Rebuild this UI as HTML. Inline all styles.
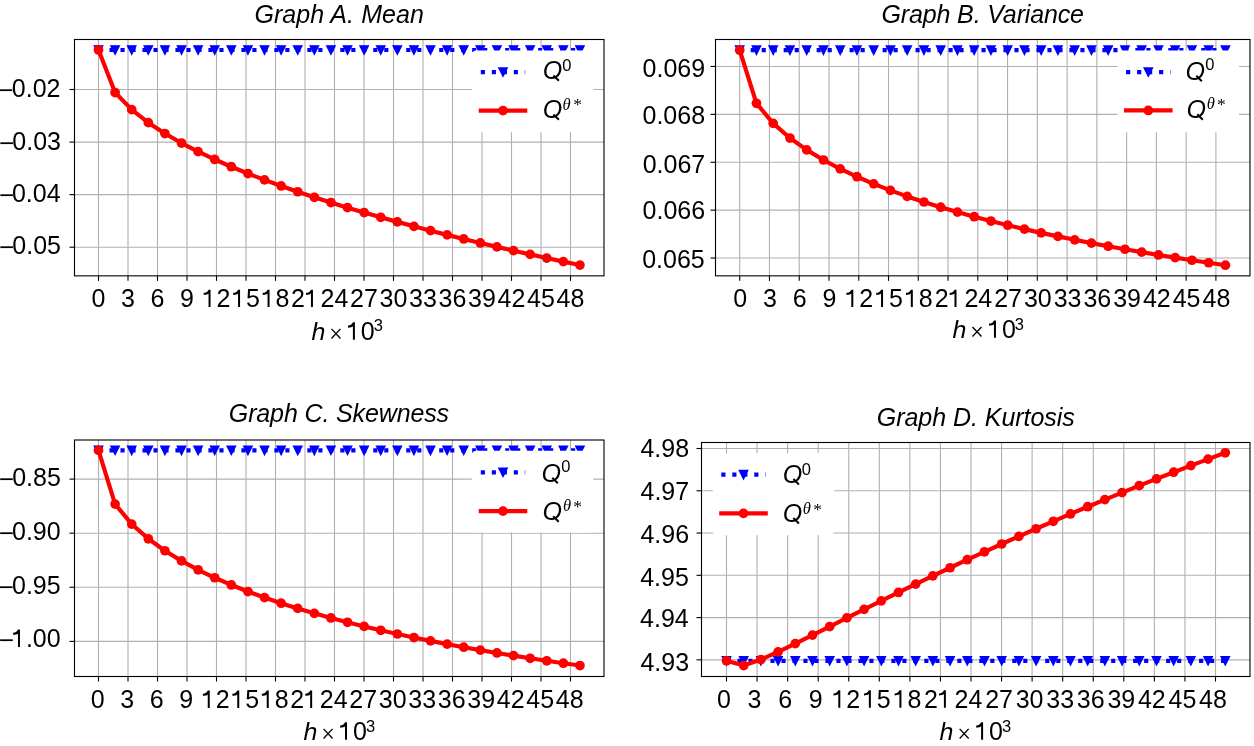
<!DOCTYPE html>
<html><head><meta charset="utf-8"><title>Graphs</title>
<style>html,body{margin:0;padding:0;background:#fff;overflow:hidden}svg text{font-kerning:normal}</style>
</head><body>
<svg width="1254" height="746" viewBox="0 0 1254 746" style="display:block;will-change:transform">
<rect width="1254" height="746" fill="#fff"/>
<defs>
<clipPath id="cA"><rect x="74.5" y="39.5" width="529.5" height="236.35"/></clipPath>
<clipPath id="cB"><rect x="715.5" y="39.5" width="534.5" height="236.35"/></clipPath>
<clipPath id="cC"><rect x="74.5" y="440" width="529.5" height="236.5"/></clipPath>
<clipPath id="cD"><rect x="701.5" y="442.5" width="548.5" height="234"/></clipPath>
</defs>
<g stroke="#b0b0b0" stroke-width="1.11" fill="none">
<line x1="98.5" y1="39.5" x2="98.5" y2="275.85"/>
<line x1="128" y1="39.5" x2="128" y2="275.85"/>
<line x1="157.5" y1="39.5" x2="157.5" y2="275.85"/>
<line x1="187" y1="39.5" x2="187" y2="275.85"/>
<line x1="216.5" y1="39.5" x2="216.5" y2="275.85"/>
<line x1="246" y1="39.5" x2="246" y2="275.85"/>
<line x1="275.5" y1="39.5" x2="275.5" y2="275.85"/>
<line x1="305" y1="39.5" x2="305" y2="275.85"/>
<line x1="334.5" y1="39.5" x2="334.5" y2="275.85"/>
<line x1="364" y1="39.5" x2="364" y2="275.85"/>
<line x1="393.5" y1="39.5" x2="393.5" y2="275.85"/>
<line x1="423" y1="39.5" x2="423" y2="275.85"/>
<line x1="452.5" y1="39.5" x2="452.5" y2="275.85"/>
<line x1="482" y1="39.5" x2="482" y2="275.85"/>
<line x1="511.5" y1="39.5" x2="511.5" y2="275.85"/>
<line x1="541" y1="39.5" x2="541" y2="275.85"/>
<line x1="570.5" y1="39.5" x2="570.5" y2="275.85"/>
<line x1="74.5" y1="89.5" x2="604" y2="89.5"/>
<line x1="74.5" y1="142.07" x2="604" y2="142.07"/>
<line x1="74.5" y1="194.63" x2="604" y2="194.63"/>
<line x1="74.5" y1="247.2" x2="604" y2="247.2"/>
</g>
<g clip-path="url(#cA)">
<line x1="98.5" y1="50" x2="579.94" y2="50" stroke="#0000ff" stroke-width="4.17" stroke-dasharray="4.15 6.84" stroke-linecap="butt"/>
<path d="M94.33,45.83L102.67,45.83L98.5,54.17Z" fill="#0000ff" stroke="#0000ff" stroke-width="1.39" stroke-linejoin="miter"/>
<path d="M110.93,45.83L119.27,45.83L115.1,54.17Z" fill="#0000ff" stroke="#0000ff" stroke-width="1.39" stroke-linejoin="miter"/>
<path d="M127.54,45.83L135.87,45.83L131.7,54.17Z" fill="#0000ff" stroke="#0000ff" stroke-width="1.39" stroke-linejoin="miter"/>
<path d="M144.14,45.83L152.47,45.83L148.3,54.17Z" fill="#0000ff" stroke="#0000ff" stroke-width="1.39" stroke-linejoin="miter"/>
<path d="M160.74,45.83L169.07,45.83L164.91,54.17Z" fill="#0000ff" stroke="#0000ff" stroke-width="1.39" stroke-linejoin="miter"/>
<path d="M177.34,45.83L185.67,45.83L181.51,54.17Z" fill="#0000ff" stroke="#0000ff" stroke-width="1.39" stroke-linejoin="miter"/>
<path d="M193.94,45.83L202.27,45.83L198.11,54.17Z" fill="#0000ff" stroke="#0000ff" stroke-width="1.39" stroke-linejoin="miter"/>
<path d="M210.54,45.83L218.88,45.83L214.71,54.17Z" fill="#0000ff" stroke="#0000ff" stroke-width="1.39" stroke-linejoin="miter"/>
<path d="M227.14,45.83L235.48,45.83L231.31,54.17Z" fill="#0000ff" stroke="#0000ff" stroke-width="1.39" stroke-linejoin="miter"/>
<path d="M243.75,45.83L252.08,45.83L247.91,54.17Z" fill="#0000ff" stroke="#0000ff" stroke-width="1.39" stroke-linejoin="miter"/>
<path d="M260.35,45.83L268.68,45.83L264.51,54.17Z" fill="#0000ff" stroke="#0000ff" stroke-width="1.39" stroke-linejoin="miter"/>
<path d="M276.95,45.83L285.28,45.83L281.12,54.17Z" fill="#0000ff" stroke="#0000ff" stroke-width="1.39" stroke-linejoin="miter"/>
<path d="M293.55,45.83L301.88,45.83L297.72,54.17Z" fill="#0000ff" stroke="#0000ff" stroke-width="1.39" stroke-linejoin="miter"/>
<path d="M310.15,45.83L318.48,45.83L314.32,54.17Z" fill="#0000ff" stroke="#0000ff" stroke-width="1.39" stroke-linejoin="miter"/>
<path d="M326.75,45.83L335.09,45.83L330.92,54.17Z" fill="#0000ff" stroke="#0000ff" stroke-width="1.39" stroke-linejoin="miter"/>
<path d="M343.35,45.83L351.69,45.83L347.52,54.17Z" fill="#0000ff" stroke="#0000ff" stroke-width="1.39" stroke-linejoin="miter"/>
<path d="M359.96,45.83L368.29,45.83L364.12,54.17Z" fill="#0000ff" stroke="#0000ff" stroke-width="1.39" stroke-linejoin="miter"/>
<path d="M376.56,45.83L384.89,45.83L380.72,54.17Z" fill="#0000ff" stroke="#0000ff" stroke-width="1.39" stroke-linejoin="miter"/>
<path d="M393.16,45.83L401.49,45.83L397.32,54.17Z" fill="#0000ff" stroke="#0000ff" stroke-width="1.39" stroke-linejoin="miter"/>
<path d="M409.76,45.83L418.09,45.83L413.93,54.17Z" fill="#0000ff" stroke="#0000ff" stroke-width="1.39" stroke-linejoin="miter"/>
<path d="M426.36,45.83L434.69,45.83L430.53,54.17Z" fill="#0000ff" stroke="#0000ff" stroke-width="1.39" stroke-linejoin="miter"/>
<path d="M442.96,45.83L451.3,45.83L447.13,54.17Z" fill="#0000ff" stroke="#0000ff" stroke-width="1.39" stroke-linejoin="miter"/>
<path d="M459.56,45.83L467.9,45.83L463.73,54.17Z" fill="#0000ff" stroke="#0000ff" stroke-width="1.39" stroke-linejoin="miter"/>
<path d="M476.17,45.83L484.5,45.83L480.33,54.17Z" fill="#0000ff" stroke="#0000ff" stroke-width="1.39" stroke-linejoin="miter"/>
<path d="M492.77,45.83L501.1,45.83L496.93,54.17Z" fill="#0000ff" stroke="#0000ff" stroke-width="1.39" stroke-linejoin="miter"/>
<path d="M509.37,45.83L517.7,45.83L513.53,54.17Z" fill="#0000ff" stroke="#0000ff" stroke-width="1.39" stroke-linejoin="miter"/>
<path d="M525.97,45.83L534.3,45.83L530.14,54.17Z" fill="#0000ff" stroke="#0000ff" stroke-width="1.39" stroke-linejoin="miter"/>
<path d="M542.57,45.83L550.9,45.83L546.74,54.17Z" fill="#0000ff" stroke="#0000ff" stroke-width="1.39" stroke-linejoin="miter"/>
<path d="M559.17,45.83L567.51,45.83L563.34,54.17Z" fill="#0000ff" stroke="#0000ff" stroke-width="1.39" stroke-linejoin="miter"/>
<path d="M575.77,45.83L584.11,45.83L579.94,54.17Z" fill="#0000ff" stroke="#0000ff" stroke-width="1.39" stroke-linejoin="miter"/>
<polyline points="98.5,50 115.1,92.53 131.7,109.64 148.3,122.65 164.91,133.53 181.51,143.06 198.11,151.63 214.71,159.47 231.31,166.73 247.91,173.52 264.51,179.92 281.12,185.98 297.72,191.75 314.32,197.27 330.92,202.56 347.52,207.64 364.12,212.55 380.72,217.29 397.32,221.88 413.93,226.33 430.53,230.66 447.13,234.86 463.73,238.96 480.33,242.96 496.93,246.86 513.53,250.67 530.14,254.4 546.74,258.05 563.34,261.62 579.94,265.12" fill="none" stroke="#ff0000" stroke-width="4.17" stroke-linecap="square" stroke-linejoin="round"/>
<circle cx="98.5" cy="50" r="4.86" fill="#ff0000"/>
<circle cx="115.1" cy="92.53" r="4.86" fill="#ff0000"/>
<circle cx="131.7" cy="109.64" r="4.86" fill="#ff0000"/>
<circle cx="148.3" cy="122.65" r="4.86" fill="#ff0000"/>
<circle cx="164.91" cy="133.53" r="4.86" fill="#ff0000"/>
<circle cx="181.51" cy="143.06" r="4.86" fill="#ff0000"/>
<circle cx="198.11" cy="151.63" r="4.86" fill="#ff0000"/>
<circle cx="214.71" cy="159.47" r="4.86" fill="#ff0000"/>
<circle cx="231.31" cy="166.73" r="4.86" fill="#ff0000"/>
<circle cx="247.91" cy="173.52" r="4.86" fill="#ff0000"/>
<circle cx="264.51" cy="179.92" r="4.86" fill="#ff0000"/>
<circle cx="281.12" cy="185.98" r="4.86" fill="#ff0000"/>
<circle cx="297.72" cy="191.75" r="4.86" fill="#ff0000"/>
<circle cx="314.32" cy="197.27" r="4.86" fill="#ff0000"/>
<circle cx="330.92" cy="202.56" r="4.86" fill="#ff0000"/>
<circle cx="347.52" cy="207.64" r="4.86" fill="#ff0000"/>
<circle cx="364.12" cy="212.55" r="4.86" fill="#ff0000"/>
<circle cx="380.72" cy="217.29" r="4.86" fill="#ff0000"/>
<circle cx="397.32" cy="221.88" r="4.86" fill="#ff0000"/>
<circle cx="413.93" cy="226.33" r="4.86" fill="#ff0000"/>
<circle cx="430.53" cy="230.66" r="4.86" fill="#ff0000"/>
<circle cx="447.13" cy="234.86" r="4.86" fill="#ff0000"/>
<circle cx="463.73" cy="238.96" r="4.86" fill="#ff0000"/>
<circle cx="480.33" cy="242.96" r="4.86" fill="#ff0000"/>
<circle cx="496.93" cy="246.86" r="4.86" fill="#ff0000"/>
<circle cx="513.53" cy="250.67" r="4.86" fill="#ff0000"/>
<circle cx="530.14" cy="254.4" r="4.86" fill="#ff0000"/>
<circle cx="546.74" cy="258.05" r="4.86" fill="#ff0000"/>
<circle cx="563.34" cy="261.62" r="4.86" fill="#ff0000"/>
<circle cx="579.94" cy="265.12" r="4.86" fill="#ff0000"/>
</g>
<rect x="74.5" y="39.5" width="529.5" height="236.35" fill="none" stroke="#000" stroke-width="1.11" stroke-linejoin="miter"/>
<g stroke="#000" stroke-width="1.11">
<line x1="98.5" y1="275.85" x2="98.5" y2="280.85"/>
<line x1="128" y1="275.85" x2="128" y2="280.85"/>
<line x1="157.5" y1="275.85" x2="157.5" y2="280.85"/>
<line x1="187" y1="275.85" x2="187" y2="280.85"/>
<line x1="216.5" y1="275.85" x2="216.5" y2="280.85"/>
<line x1="246" y1="275.85" x2="246" y2="280.85"/>
<line x1="275.5" y1="275.85" x2="275.5" y2="280.85"/>
<line x1="305" y1="275.85" x2="305" y2="280.85"/>
<line x1="334.5" y1="275.85" x2="334.5" y2="280.85"/>
<line x1="364" y1="275.85" x2="364" y2="280.85"/>
<line x1="393.5" y1="275.85" x2="393.5" y2="280.85"/>
<line x1="423" y1="275.85" x2="423" y2="280.85"/>
<line x1="452.5" y1="275.85" x2="452.5" y2="280.85"/>
<line x1="482" y1="275.85" x2="482" y2="280.85"/>
<line x1="511.5" y1="275.85" x2="511.5" y2="280.85"/>
<line x1="541" y1="275.85" x2="541" y2="280.85"/>
<line x1="570.5" y1="275.85" x2="570.5" y2="280.85"/>
<line x1="69.5" y1="89.5" x2="74.5" y2="89.5"/>
<line x1="69.5" y1="142.07" x2="74.5" y2="142.07"/>
<line x1="69.5" y1="194.63" x2="74.5" y2="194.63"/>
<line x1="69.5" y1="247.2" x2="74.5" y2="247.2"/>
</g>
<g font-family='"Liberation Sans", sans-serif' font-size="25" fill="#000">
<text x="91.55" y="307.1">0</text>
<text x="121.05" y="307.1">3</text>
<text x="150.55" y="307.1">6</text>
<text x="180.05" y="307.1">9</text>
<path d="M7.95,0L5.95,0L5.95,-13.6C5.0,-12.6 3.2,-12.15 1.1,-12.15L1.1,-14.25C3.6,-14.35 5.3,-15.6 5.95,-17.45L7.95,-17.45Z" transform="translate(202.6,307.1) scale(1)"/>
<text x="216.5" y="307.1">2</text>
<path d="M7.95,0L5.95,0L5.95,-13.6C5.0,-12.6 3.2,-12.15 1.1,-12.15L1.1,-14.25C3.6,-14.35 5.3,-15.6 5.95,-17.45L7.95,-17.45Z" transform="translate(232.1,307.1) scale(1)"/>
<text x="246" y="307.1">5</text>
<path d="M7.95,0L5.95,0L5.95,-13.6C5.0,-12.6 3.2,-12.15 1.1,-12.15L1.1,-14.25C3.6,-14.35 5.3,-15.6 5.95,-17.45L7.95,-17.45Z" transform="translate(261.6,307.1) scale(1)"/>
<text x="275.5" y="307.1">8</text>
<text x="291.1" y="307.1">2</text>
<path d="M7.95,0L5.95,0L5.95,-13.6C5.0,-12.6 3.2,-12.15 1.1,-12.15L1.1,-14.25C3.6,-14.35 5.3,-15.6 5.95,-17.45L7.95,-17.45Z" transform="translate(305,307.1) scale(1)"/>
<text x="320.6" y="307.1">24</text>
<text x="350.1" y="307.1">27</text>
<text x="379.6" y="307.1">30</text>
<text x="409.1" y="307.1">33</text>
<text x="438.6" y="307.1">36</text>
<text x="468.1" y="307.1">39</text>
<text x="497.6" y="307.1">42</text>
<text x="527.1" y="307.1">45</text>
<text x="556.6" y="307.1">48</text>
<text x="11.8" y="97">0.02</text>
<rect x="-0.35" y="89.33" width="12.6" height="1.75"/>
<text x="12.34" y="150">0.03</text>
<rect x="0.35" y="142.33" width="12.6" height="1.75"/>
<text x="11.98" y="202">0.04</text>
<rect x="0.35" y="194.33" width="12.6" height="1.75"/>
<text x="12.29" y="254">0.05</text>
<rect x="0.35" y="246.33" width="12.6" height="1.75"/>
</g>
<text x="339.17" y="22.84" text-anchor="middle" textLength="169.47" lengthAdjust="spacing" font-family='"Liberation Sans", sans-serif' font-style="italic" font-size="25">Graph A. Mean</text>
<g transform="translate(0,339.8) scale(1,0.972) translate(0,-339.8)"><text x="311.44" y="339.8" font-family='"Liberation Sans", sans-serif' font-style="italic" font-size="25">h</text></g>
<path d="M331.45,328.9L340.45,338.5M340.45,328.9L331.45,338.5" stroke="#000" stroke-width="1.35" fill="none"/>
<g font-family='"Liberation Sans", sans-serif' font-size="25">
<path d="M7.95,0L5.95,0L5.95,-13.6C5.0,-12.6 3.2,-12.15 1.1,-12.15L1.1,-14.25C3.6,-14.35 5.3,-15.6 5.95,-17.45L7.95,-17.45Z" transform="translate(346.95,339.8) scale(1)"/>
<text x="360.85" y="339.8">0</text>
</g>
<text x="373.82" y="331.4" font-family='"Liberation Sans", sans-serif' font-size="16.5">3</text>
<rect x="471.8" y="50.4" width="121.4" height="81.8" rx="4.4" fill="#fff"/>
<line x1="480.8" y1="72.07" x2="525.2" y2="72.07" stroke="#0000ff" stroke-width="4.17" stroke-dasharray="4.15 6.84"/>
<path d="M498.83,67.9L507.17,67.9L503,76.24Z" fill="#0000ff" stroke="#0000ff" stroke-width="1.39" stroke-linejoin="miter"/>
<line x1="480.8" y1="110.6" x2="525.2" y2="110.6" stroke="#ff0000" stroke-width="4.17" stroke-linecap="square"/>
<circle cx="503" cy="110.6" r="4.86" fill="#ff0000"/>
<g transform="translate(0,79.5) scale(1,1.035) translate(0,-79.5)"><text x="542.64" y="79.5" font-family='"Liberation Sans", sans-serif' font-style="italic" font-size="25">O</text><path d="M553.4,75.6L558.9,80.8" stroke="#000" stroke-width="2.0" fill="none"/></g>
<text x="562.26" y="70.6" font-family='"Liberation Sans", sans-serif' font-size="16.5">0</text>
<g transform="translate(0,118.5) scale(1,1.035) translate(0,-118.5)"><text x="542.64" y="118.5" font-family='"Liberation Sans", sans-serif' font-style="italic" font-size="25">O</text><path d="M553.4,114.6L558.9,119.8" stroke="#000" stroke-width="2.0" fill="none"/></g>
<text x="562.5" y="109.6" font-family='"Liberation Serif", serif' font-style="italic" font-size="16.5">θ</text>
<text x="573.15" y="110.19" font-family='"Liberation Serif", serif' font-size="17.5">*</text>
<g stroke="#b0b0b0" stroke-width="1.11" fill="none">
<line x1="739.7" y1="39.5" x2="739.7" y2="275.85"/>
<line x1="769.46" y1="39.5" x2="769.46" y2="275.85"/>
<line x1="799.23" y1="39.5" x2="799.23" y2="275.85"/>
<line x1="828.99" y1="39.5" x2="828.99" y2="275.85"/>
<line x1="858.75" y1="39.5" x2="858.75" y2="275.85"/>
<line x1="888.51" y1="39.5" x2="888.51" y2="275.85"/>
<line x1="918.28" y1="39.5" x2="918.28" y2="275.85"/>
<line x1="948.04" y1="39.5" x2="948.04" y2="275.85"/>
<line x1="977.8" y1="39.5" x2="977.8" y2="275.85"/>
<line x1="1007.56" y1="39.5" x2="1007.56" y2="275.85"/>
<line x1="1037.33" y1="39.5" x2="1037.33" y2="275.85"/>
<line x1="1067.09" y1="39.5" x2="1067.09" y2="275.85"/>
<line x1="1096.85" y1="39.5" x2="1096.85" y2="275.85"/>
<line x1="1126.61" y1="39.5" x2="1126.61" y2="275.85"/>
<line x1="1156.38" y1="39.5" x2="1156.38" y2="275.85"/>
<line x1="1186.14" y1="39.5" x2="1186.14" y2="275.85"/>
<line x1="1215.9" y1="39.5" x2="1215.9" y2="275.85"/>
<line x1="715.5" y1="66.47" x2="1250" y2="66.47"/>
<line x1="715.5" y1="114.35" x2="1250" y2="114.35"/>
<line x1="715.5" y1="162.25" x2="1250" y2="162.25"/>
<line x1="715.5" y1="210.15" x2="1250" y2="210.15"/>
<line x1="715.5" y1="258.05" x2="1250" y2="258.05"/>
</g>
<g clip-path="url(#cB)">
<line x1="739.7" y1="50.2" x2="1225.42" y2="50.2" stroke="#0000ff" stroke-width="4.17" stroke-dasharray="4.15 6.84" stroke-linecap="butt"/>
<path d="M735.53,46.03L743.87,46.03L739.7,54.37Z" fill="#0000ff" stroke="#0000ff" stroke-width="1.39" stroke-linejoin="miter"/>
<path d="M752.28,46.03L760.62,46.03L756.45,54.37Z" fill="#0000ff" stroke="#0000ff" stroke-width="1.39" stroke-linejoin="miter"/>
<path d="M769.03,46.03L777.36,46.03L773.2,54.37Z" fill="#0000ff" stroke="#0000ff" stroke-width="1.39" stroke-linejoin="miter"/>
<path d="M785.78,46.03L794.11,46.03L789.95,54.37Z" fill="#0000ff" stroke="#0000ff" stroke-width="1.39" stroke-linejoin="miter"/>
<path d="M802.53,46.03L810.86,46.03L806.7,54.37Z" fill="#0000ff" stroke="#0000ff" stroke-width="1.39" stroke-linejoin="miter"/>
<path d="M819.28,46.03L827.61,46.03L823.45,54.37Z" fill="#0000ff" stroke="#0000ff" stroke-width="1.39" stroke-linejoin="miter"/>
<path d="M836.03,46.03L844.36,46.03L840.19,54.37Z" fill="#0000ff" stroke="#0000ff" stroke-width="1.39" stroke-linejoin="miter"/>
<path d="M852.78,46.03L861.11,46.03L856.94,54.37Z" fill="#0000ff" stroke="#0000ff" stroke-width="1.39" stroke-linejoin="miter"/>
<path d="M869.53,46.03L877.86,46.03L873.69,54.37Z" fill="#0000ff" stroke="#0000ff" stroke-width="1.39" stroke-linejoin="miter"/>
<path d="M886.28,46.03L894.61,46.03L890.44,54.37Z" fill="#0000ff" stroke="#0000ff" stroke-width="1.39" stroke-linejoin="miter"/>
<path d="M903.02,46.03L911.36,46.03L907.19,54.37Z" fill="#0000ff" stroke="#0000ff" stroke-width="1.39" stroke-linejoin="miter"/>
<path d="M919.77,46.03L928.11,46.03L923.94,54.37Z" fill="#0000ff" stroke="#0000ff" stroke-width="1.39" stroke-linejoin="miter"/>
<path d="M936.52,46.03L944.86,46.03L940.69,54.37Z" fill="#0000ff" stroke="#0000ff" stroke-width="1.39" stroke-linejoin="miter"/>
<path d="M953.27,46.03L961.61,46.03L957.44,54.37Z" fill="#0000ff" stroke="#0000ff" stroke-width="1.39" stroke-linejoin="miter"/>
<path d="M970.02,46.03L978.35,46.03L974.19,54.37Z" fill="#0000ff" stroke="#0000ff" stroke-width="1.39" stroke-linejoin="miter"/>
<path d="M986.77,46.03L995.1,46.03L990.94,54.37Z" fill="#0000ff" stroke="#0000ff" stroke-width="1.39" stroke-linejoin="miter"/>
<path d="M1003.52,46.03L1011.85,46.03L1007.69,54.37Z" fill="#0000ff" stroke="#0000ff" stroke-width="1.39" stroke-linejoin="miter"/>
<path d="M1020.27,46.03L1028.6,46.03L1024.43,54.37Z" fill="#0000ff" stroke="#0000ff" stroke-width="1.39" stroke-linejoin="miter"/>
<path d="M1037.02,46.03L1045.35,46.03L1041.18,54.37Z" fill="#0000ff" stroke="#0000ff" stroke-width="1.39" stroke-linejoin="miter"/>
<path d="M1053.77,46.03L1062.1,46.03L1057.93,54.37Z" fill="#0000ff" stroke="#0000ff" stroke-width="1.39" stroke-linejoin="miter"/>
<path d="M1070.52,46.03L1078.85,46.03L1074.68,54.37Z" fill="#0000ff" stroke="#0000ff" stroke-width="1.39" stroke-linejoin="miter"/>
<path d="M1087.26,46.03L1095.6,46.03L1091.43,54.37Z" fill="#0000ff" stroke="#0000ff" stroke-width="1.39" stroke-linejoin="miter"/>
<path d="M1104.01,46.03L1112.35,46.03L1108.18,54.37Z" fill="#0000ff" stroke="#0000ff" stroke-width="1.39" stroke-linejoin="miter"/>
<path d="M1120.76,46.03L1129.1,46.03L1124.93,54.37Z" fill="#0000ff" stroke="#0000ff" stroke-width="1.39" stroke-linejoin="miter"/>
<path d="M1137.51,46.03L1145.85,46.03L1141.68,54.37Z" fill="#0000ff" stroke="#0000ff" stroke-width="1.39" stroke-linejoin="miter"/>
<path d="M1154.26,46.03L1162.59,46.03L1158.43,54.37Z" fill="#0000ff" stroke="#0000ff" stroke-width="1.39" stroke-linejoin="miter"/>
<path d="M1171.01,46.03L1179.34,46.03L1175.18,54.37Z" fill="#0000ff" stroke="#0000ff" stroke-width="1.39" stroke-linejoin="miter"/>
<path d="M1187.76,46.03L1196.09,46.03L1191.93,54.37Z" fill="#0000ff" stroke="#0000ff" stroke-width="1.39" stroke-linejoin="miter"/>
<path d="M1204.51,46.03L1212.84,46.03L1208.67,54.37Z" fill="#0000ff" stroke="#0000ff" stroke-width="1.39" stroke-linejoin="miter"/>
<path d="M1221.26,46.03L1229.59,46.03L1225.42,54.37Z" fill="#0000ff" stroke="#0000ff" stroke-width="1.39" stroke-linejoin="miter"/>
<polyline points="739.7,50.2 756.45,103.31 773.2,123.35 789.95,138.02 806.7,149.9 823.45,160 840.19,168.84 856.94,176.73 873.69,183.87 890.44,190.4 907.19,196.41 923.94,202 940.69,207.21 957.44,212.11 974.19,216.71 990.94,221.06 1007.69,225.19 1024.43,229.11 1041.18,232.85 1057.93,236.41 1074.68,239.82 1091.43,243.09 1108.18,246.23 1124.93,249.24 1141.68,252.14 1158.43,254.94 1175.18,257.64 1191.93,260.24 1208.67,262.76 1225.42,265.2" fill="none" stroke="#ff0000" stroke-width="4.17" stroke-linecap="square" stroke-linejoin="round"/>
<circle cx="739.7" cy="50.2" r="4.86" fill="#ff0000"/>
<circle cx="756.45" cy="103.31" r="4.86" fill="#ff0000"/>
<circle cx="773.2" cy="123.35" r="4.86" fill="#ff0000"/>
<circle cx="789.95" cy="138.02" r="4.86" fill="#ff0000"/>
<circle cx="806.7" cy="149.9" r="4.86" fill="#ff0000"/>
<circle cx="823.45" cy="160" r="4.86" fill="#ff0000"/>
<circle cx="840.19" cy="168.84" r="4.86" fill="#ff0000"/>
<circle cx="856.94" cy="176.73" r="4.86" fill="#ff0000"/>
<circle cx="873.69" cy="183.87" r="4.86" fill="#ff0000"/>
<circle cx="890.44" cy="190.4" r="4.86" fill="#ff0000"/>
<circle cx="907.19" cy="196.41" r="4.86" fill="#ff0000"/>
<circle cx="923.94" cy="202" r="4.86" fill="#ff0000"/>
<circle cx="940.69" cy="207.21" r="4.86" fill="#ff0000"/>
<circle cx="957.44" cy="212.11" r="4.86" fill="#ff0000"/>
<circle cx="974.19" cy="216.71" r="4.86" fill="#ff0000"/>
<circle cx="990.94" cy="221.06" r="4.86" fill="#ff0000"/>
<circle cx="1007.69" cy="225.19" r="4.86" fill="#ff0000"/>
<circle cx="1024.43" cy="229.11" r="4.86" fill="#ff0000"/>
<circle cx="1041.18" cy="232.85" r="4.86" fill="#ff0000"/>
<circle cx="1057.93" cy="236.41" r="4.86" fill="#ff0000"/>
<circle cx="1074.68" cy="239.82" r="4.86" fill="#ff0000"/>
<circle cx="1091.43" cy="243.09" r="4.86" fill="#ff0000"/>
<circle cx="1108.18" cy="246.23" r="4.86" fill="#ff0000"/>
<circle cx="1124.93" cy="249.24" r="4.86" fill="#ff0000"/>
<circle cx="1141.68" cy="252.14" r="4.86" fill="#ff0000"/>
<circle cx="1158.43" cy="254.94" r="4.86" fill="#ff0000"/>
<circle cx="1175.18" cy="257.64" r="4.86" fill="#ff0000"/>
<circle cx="1191.93" cy="260.24" r="4.86" fill="#ff0000"/>
<circle cx="1208.67" cy="262.76" r="4.86" fill="#ff0000"/>
<circle cx="1225.42" cy="265.2" r="4.86" fill="#ff0000"/>
</g>
<rect x="715.5" y="39.5" width="534.5" height="236.35" fill="none" stroke="#000" stroke-width="1.11" stroke-linejoin="miter"/>
<g stroke="#000" stroke-width="1.11">
<line x1="739.7" y1="275.85" x2="739.7" y2="280.85"/>
<line x1="769.46" y1="275.85" x2="769.46" y2="280.85"/>
<line x1="799.23" y1="275.85" x2="799.23" y2="280.85"/>
<line x1="828.99" y1="275.85" x2="828.99" y2="280.85"/>
<line x1="858.75" y1="275.85" x2="858.75" y2="280.85"/>
<line x1="888.51" y1="275.85" x2="888.51" y2="280.85"/>
<line x1="918.28" y1="275.85" x2="918.28" y2="280.85"/>
<line x1="948.04" y1="275.85" x2="948.04" y2="280.85"/>
<line x1="977.8" y1="275.85" x2="977.8" y2="280.85"/>
<line x1="1007.56" y1="275.85" x2="1007.56" y2="280.85"/>
<line x1="1037.33" y1="275.85" x2="1037.33" y2="280.85"/>
<line x1="1067.09" y1="275.85" x2="1067.09" y2="280.85"/>
<line x1="1096.85" y1="275.85" x2="1096.85" y2="280.85"/>
<line x1="1126.61" y1="275.85" x2="1126.61" y2="280.85"/>
<line x1="1156.38" y1="275.85" x2="1156.38" y2="280.85"/>
<line x1="1186.14" y1="275.85" x2="1186.14" y2="280.85"/>
<line x1="1215.9" y1="275.85" x2="1215.9" y2="280.85"/>
<line x1="710.5" y1="66.47" x2="715.5" y2="66.47"/>
<line x1="710.5" y1="114.35" x2="715.5" y2="114.35"/>
<line x1="710.5" y1="162.25" x2="715.5" y2="162.25"/>
<line x1="710.5" y1="210.15" x2="715.5" y2="210.15"/>
<line x1="710.5" y1="258.05" x2="715.5" y2="258.05"/>
</g>
<g font-family='"Liberation Sans", sans-serif' font-size="25" fill="#000">
<text x="733.25" y="307.1">0</text>
<text x="763.01" y="307.1">3</text>
<text x="792.77" y="307.1">6</text>
<text x="822.54" y="307.1">9</text>
<path d="M7.95,0L5.95,0L5.95,-13.6C5.0,-12.6 3.2,-12.15 1.1,-12.15L1.1,-14.25C3.6,-14.35 5.3,-15.6 5.95,-17.45L7.95,-17.45Z" transform="translate(845.35,307.1) scale(1)"/>
<text x="859.25" y="307.1">2</text>
<path d="M7.95,0L5.95,0L5.95,-13.6C5.0,-12.6 3.2,-12.15 1.1,-12.15L1.1,-14.25C3.6,-14.35 5.3,-15.6 5.95,-17.45L7.95,-17.45Z" transform="translate(875.11,307.1) scale(1)"/>
<text x="889.01" y="307.1">5</text>
<path d="M7.95,0L5.95,0L5.95,-13.6C5.0,-12.6 3.2,-12.15 1.1,-12.15L1.1,-14.25C3.6,-14.35 5.3,-15.6 5.95,-17.45L7.95,-17.45Z" transform="translate(904.87,307.1) scale(1)"/>
<text x="918.78" y="307.1">8</text>
<text x="934.63" y="307.1">2</text>
<path d="M7.95,0L5.95,0L5.95,-13.6C5.0,-12.6 3.2,-12.15 1.1,-12.15L1.1,-14.25C3.6,-14.35 5.3,-15.6 5.95,-17.45L7.95,-17.45Z" transform="translate(948.54,307.1) scale(1)"/>
<text x="964.4" y="307.1">24</text>
<text x="994.16" y="307.1">27</text>
<text x="1023.92" y="307.1">30</text>
<text x="1053.68" y="307.1">33</text>
<text x="1083.45" y="307.1">36</text>
<text x="1113.21" y="307.1">39</text>
<text x="1142.97" y="307.1">42</text>
<text x="1172.73" y="307.1">45</text>
<text x="1202.5" y="307.1">48</text>
<text x="642.62" y="77">0.069</text>
<text x="642.53" y="124">0.068</text>
<text x="642.7" y="173">0.067</text>
<text x="642.54" y="219">0.066</text>
<text x="642.19" y="268">0.065</text>
</g>
<text x="982.77" y="22.84" text-anchor="middle" textLength="202.46" lengthAdjust="spacing" font-family='"Liberation Sans", sans-serif' font-style="italic" font-size="25">Graph B. Variance</text>
<g transform="translate(0,337.85) scale(1,0.972) translate(0,-337.85)"><text x="952.49" y="337.85" font-family='"Liberation Sans", sans-serif' font-style="italic" font-size="25">h</text></g>
<path d="M972.5,326.95L981.5,336.55M981.5,326.95L972.5,336.55" stroke="#000" stroke-width="1.35" fill="none"/>
<g font-family='"Liberation Sans", sans-serif' font-size="25">
<path d="M7.95,0L5.95,0L5.95,-13.6C5.0,-12.6 3.2,-12.15 1.1,-12.15L1.1,-14.25C3.6,-14.35 5.3,-15.6 5.95,-17.45L7.95,-17.45Z" transform="translate(988,337.85) scale(1)"/>
<text x="1001.9" y="337.85">0</text>
</g>
<text x="1014.87" y="330.25" font-family='"Liberation Sans", sans-serif' font-size="16.5">3</text>
<rect x="1117.7" y="50.4" width="121.4" height="81.8" rx="4.4" fill="#fff"/>
<line x1="1126.1" y1="72.1" x2="1170.5" y2="72.1" stroke="#0000ff" stroke-width="4.17" stroke-dasharray="4.15 6.84"/>
<path d="M1144.13,67.93L1152.47,67.93L1148.3,76.27Z" fill="#0000ff" stroke="#0000ff" stroke-width="1.39" stroke-linejoin="miter"/>
<line x1="1126.1" y1="110.45" x2="1170.5" y2="110.45" stroke="#ff0000" stroke-width="4.17" stroke-linecap="square"/>
<circle cx="1148.3" cy="110.45" r="4.86" fill="#ff0000"/>
<g transform="translate(0,79.8) scale(1,1.035) translate(0,-79.8)"><text x="1185.55" y="79.8" font-family='"Liberation Sans", sans-serif' font-style="italic" font-size="25">O</text><path d="M1196.3,75.9L1201.8,81.1" stroke="#000" stroke-width="2.0" fill="none"/></g>
<text x="1205.16" y="70.3" font-family='"Liberation Sans", sans-serif' font-size="16.5">0</text>
<g transform="translate(0,118.4) scale(1,1.035) translate(0,-118.4)"><text x="1186.55" y="118.4" font-family='"Liberation Sans", sans-serif' font-style="italic" font-size="25">O</text><path d="M1197.3,114.5L1202.8,119.7" stroke="#000" stroke-width="2.0" fill="none"/></g>
<text x="1206.8" y="109.4" font-family='"Liberation Serif", serif' font-style="italic" font-size="16.5">θ</text>
<text x="1217.05" y="110.24" font-family='"Liberation Serif", serif' font-size="17.5">*</text>
<g stroke="#b0b0b0" stroke-width="1.11" fill="none">
<line x1="98.5" y1="440" x2="98.5" y2="676.5"/>
<line x1="128" y1="440" x2="128" y2="676.5"/>
<line x1="157.5" y1="440" x2="157.5" y2="676.5"/>
<line x1="187" y1="440" x2="187" y2="676.5"/>
<line x1="216.5" y1="440" x2="216.5" y2="676.5"/>
<line x1="246" y1="440" x2="246" y2="676.5"/>
<line x1="275.5" y1="440" x2="275.5" y2="676.5"/>
<line x1="305" y1="440" x2="305" y2="676.5"/>
<line x1="334.5" y1="440" x2="334.5" y2="676.5"/>
<line x1="364" y1="440" x2="364" y2="676.5"/>
<line x1="393.5" y1="440" x2="393.5" y2="676.5"/>
<line x1="423" y1="440" x2="423" y2="676.5"/>
<line x1="452.5" y1="440" x2="452.5" y2="676.5"/>
<line x1="482" y1="440" x2="482" y2="676.5"/>
<line x1="511.5" y1="440" x2="511.5" y2="676.5"/>
<line x1="541" y1="440" x2="541" y2="676.5"/>
<line x1="570.5" y1="440" x2="570.5" y2="676.5"/>
<line x1="74.5" y1="479.1" x2="604" y2="479.1"/>
<line x1="74.5" y1="533.18" x2="604" y2="533.18"/>
<line x1="74.5" y1="587.26" x2="604" y2="587.26"/>
<line x1="74.5" y1="641.4" x2="604" y2="641.4"/>
</g>
<g clip-path="url(#cC)">
<line x1="98.5" y1="450.4" x2="579.94" y2="450.4" stroke="#0000ff" stroke-width="4.17" stroke-dasharray="4.15 6.84" stroke-linecap="butt"/>
<path d="M94.33,446.23L102.67,446.23L98.5,454.57Z" fill="#0000ff" stroke="#0000ff" stroke-width="1.39" stroke-linejoin="miter"/>
<path d="M110.93,446.23L119.27,446.23L115.1,454.57Z" fill="#0000ff" stroke="#0000ff" stroke-width="1.39" stroke-linejoin="miter"/>
<path d="M127.54,446.23L135.87,446.23L131.7,454.57Z" fill="#0000ff" stroke="#0000ff" stroke-width="1.39" stroke-linejoin="miter"/>
<path d="M144.14,446.23L152.47,446.23L148.3,454.57Z" fill="#0000ff" stroke="#0000ff" stroke-width="1.39" stroke-linejoin="miter"/>
<path d="M160.74,446.23L169.07,446.23L164.91,454.57Z" fill="#0000ff" stroke="#0000ff" stroke-width="1.39" stroke-linejoin="miter"/>
<path d="M177.34,446.23L185.67,446.23L181.51,454.57Z" fill="#0000ff" stroke="#0000ff" stroke-width="1.39" stroke-linejoin="miter"/>
<path d="M193.94,446.23L202.27,446.23L198.11,454.57Z" fill="#0000ff" stroke="#0000ff" stroke-width="1.39" stroke-linejoin="miter"/>
<path d="M210.54,446.23L218.88,446.23L214.71,454.57Z" fill="#0000ff" stroke="#0000ff" stroke-width="1.39" stroke-linejoin="miter"/>
<path d="M227.14,446.23L235.48,446.23L231.31,454.57Z" fill="#0000ff" stroke="#0000ff" stroke-width="1.39" stroke-linejoin="miter"/>
<path d="M243.75,446.23L252.08,446.23L247.91,454.57Z" fill="#0000ff" stroke="#0000ff" stroke-width="1.39" stroke-linejoin="miter"/>
<path d="M260.35,446.23L268.68,446.23L264.51,454.57Z" fill="#0000ff" stroke="#0000ff" stroke-width="1.39" stroke-linejoin="miter"/>
<path d="M276.95,446.23L285.28,446.23L281.12,454.57Z" fill="#0000ff" stroke="#0000ff" stroke-width="1.39" stroke-linejoin="miter"/>
<path d="M293.55,446.23L301.88,446.23L297.72,454.57Z" fill="#0000ff" stroke="#0000ff" stroke-width="1.39" stroke-linejoin="miter"/>
<path d="M310.15,446.23L318.48,446.23L314.32,454.57Z" fill="#0000ff" stroke="#0000ff" stroke-width="1.39" stroke-linejoin="miter"/>
<path d="M326.75,446.23L335.09,446.23L330.92,454.57Z" fill="#0000ff" stroke="#0000ff" stroke-width="1.39" stroke-linejoin="miter"/>
<path d="M343.35,446.23L351.69,446.23L347.52,454.57Z" fill="#0000ff" stroke="#0000ff" stroke-width="1.39" stroke-linejoin="miter"/>
<path d="M359.96,446.23L368.29,446.23L364.12,454.57Z" fill="#0000ff" stroke="#0000ff" stroke-width="1.39" stroke-linejoin="miter"/>
<path d="M376.56,446.23L384.89,446.23L380.72,454.57Z" fill="#0000ff" stroke="#0000ff" stroke-width="1.39" stroke-linejoin="miter"/>
<path d="M393.16,446.23L401.49,446.23L397.32,454.57Z" fill="#0000ff" stroke="#0000ff" stroke-width="1.39" stroke-linejoin="miter"/>
<path d="M409.76,446.23L418.09,446.23L413.93,454.57Z" fill="#0000ff" stroke="#0000ff" stroke-width="1.39" stroke-linejoin="miter"/>
<path d="M426.36,446.23L434.69,446.23L430.53,454.57Z" fill="#0000ff" stroke="#0000ff" stroke-width="1.39" stroke-linejoin="miter"/>
<path d="M442.96,446.23L451.3,446.23L447.13,454.57Z" fill="#0000ff" stroke="#0000ff" stroke-width="1.39" stroke-linejoin="miter"/>
<path d="M459.56,446.23L467.9,446.23L463.73,454.57Z" fill="#0000ff" stroke="#0000ff" stroke-width="1.39" stroke-linejoin="miter"/>
<path d="M476.17,446.23L484.5,446.23L480.33,454.57Z" fill="#0000ff" stroke="#0000ff" stroke-width="1.39" stroke-linejoin="miter"/>
<path d="M492.77,446.23L501.1,446.23L496.93,454.57Z" fill="#0000ff" stroke="#0000ff" stroke-width="1.39" stroke-linejoin="miter"/>
<path d="M509.37,446.23L517.7,446.23L513.53,454.57Z" fill="#0000ff" stroke="#0000ff" stroke-width="1.39" stroke-linejoin="miter"/>
<path d="M525.97,446.23L534.3,446.23L530.14,454.57Z" fill="#0000ff" stroke="#0000ff" stroke-width="1.39" stroke-linejoin="miter"/>
<path d="M542.57,446.23L550.9,446.23L546.74,454.57Z" fill="#0000ff" stroke="#0000ff" stroke-width="1.39" stroke-linejoin="miter"/>
<path d="M559.17,446.23L567.51,446.23L563.34,454.57Z" fill="#0000ff" stroke="#0000ff" stroke-width="1.39" stroke-linejoin="miter"/>
<path d="M575.77,446.23L584.11,446.23L579.94,454.57Z" fill="#0000ff" stroke="#0000ff" stroke-width="1.39" stroke-linejoin="miter"/>
<polyline points="98.5,450.4 115.1,504.09 131.7,524.08 148.3,538.79 164.91,550.74 181.51,560.9 198.11,569.81 214.71,577.76 231.31,584.95 247.91,591.52 264.51,597.58 281.12,603.19 297.72,608.43 314.32,613.33 330.92,617.94 347.52,622.29 364.12,626.4 380.72,630.3 397.32,634.01 413.93,637.54 430.53,640.9 447.13,644.12 463.73,647.19 480.33,650.14 496.93,652.96 513.53,655.67 530.14,658.28 546.74,660.78 563.34,663.19 579.94,665.52" fill="none" stroke="#ff0000" stroke-width="4.17" stroke-linecap="square" stroke-linejoin="round"/>
<circle cx="98.5" cy="450.4" r="4.86" fill="#ff0000"/>
<circle cx="115.1" cy="504.09" r="4.86" fill="#ff0000"/>
<circle cx="131.7" cy="524.08" r="4.86" fill="#ff0000"/>
<circle cx="148.3" cy="538.79" r="4.86" fill="#ff0000"/>
<circle cx="164.91" cy="550.74" r="4.86" fill="#ff0000"/>
<circle cx="181.51" cy="560.9" r="4.86" fill="#ff0000"/>
<circle cx="198.11" cy="569.81" r="4.86" fill="#ff0000"/>
<circle cx="214.71" cy="577.76" r="4.86" fill="#ff0000"/>
<circle cx="231.31" cy="584.95" r="4.86" fill="#ff0000"/>
<circle cx="247.91" cy="591.52" r="4.86" fill="#ff0000"/>
<circle cx="264.51" cy="597.58" r="4.86" fill="#ff0000"/>
<circle cx="281.12" cy="603.19" r="4.86" fill="#ff0000"/>
<circle cx="297.72" cy="608.43" r="4.86" fill="#ff0000"/>
<circle cx="314.32" cy="613.33" r="4.86" fill="#ff0000"/>
<circle cx="330.92" cy="617.94" r="4.86" fill="#ff0000"/>
<circle cx="347.52" cy="622.29" r="4.86" fill="#ff0000"/>
<circle cx="364.12" cy="626.4" r="4.86" fill="#ff0000"/>
<circle cx="380.72" cy="630.3" r="4.86" fill="#ff0000"/>
<circle cx="397.32" cy="634.01" r="4.86" fill="#ff0000"/>
<circle cx="413.93" cy="637.54" r="4.86" fill="#ff0000"/>
<circle cx="430.53" cy="640.9" r="4.86" fill="#ff0000"/>
<circle cx="447.13" cy="644.12" r="4.86" fill="#ff0000"/>
<circle cx="463.73" cy="647.19" r="4.86" fill="#ff0000"/>
<circle cx="480.33" cy="650.14" r="4.86" fill="#ff0000"/>
<circle cx="496.93" cy="652.96" r="4.86" fill="#ff0000"/>
<circle cx="513.53" cy="655.67" r="4.86" fill="#ff0000"/>
<circle cx="530.14" cy="658.28" r="4.86" fill="#ff0000"/>
<circle cx="546.74" cy="660.78" r="4.86" fill="#ff0000"/>
<circle cx="563.34" cy="663.19" r="4.86" fill="#ff0000"/>
<circle cx="579.94" cy="665.52" r="4.86" fill="#ff0000"/>
</g>
<rect x="74.5" y="440" width="529.5" height="236.5" fill="none" stroke="#000" stroke-width="1.11" stroke-linejoin="miter"/>
<g stroke="#000" stroke-width="1.11">
<line x1="98.5" y1="676.5" x2="98.5" y2="681.5"/>
<line x1="128" y1="676.5" x2="128" y2="681.5"/>
<line x1="157.5" y1="676.5" x2="157.5" y2="681.5"/>
<line x1="187" y1="676.5" x2="187" y2="681.5"/>
<line x1="216.5" y1="676.5" x2="216.5" y2="681.5"/>
<line x1="246" y1="676.5" x2="246" y2="681.5"/>
<line x1="275.5" y1="676.5" x2="275.5" y2="681.5"/>
<line x1="305" y1="676.5" x2="305" y2="681.5"/>
<line x1="334.5" y1="676.5" x2="334.5" y2="681.5"/>
<line x1="364" y1="676.5" x2="364" y2="681.5"/>
<line x1="393.5" y1="676.5" x2="393.5" y2="681.5"/>
<line x1="423" y1="676.5" x2="423" y2="681.5"/>
<line x1="452.5" y1="676.5" x2="452.5" y2="681.5"/>
<line x1="482" y1="676.5" x2="482" y2="681.5"/>
<line x1="511.5" y1="676.5" x2="511.5" y2="681.5"/>
<line x1="541" y1="676.5" x2="541" y2="681.5"/>
<line x1="570.5" y1="676.5" x2="570.5" y2="681.5"/>
<line x1="69.5" y1="479.1" x2="74.5" y2="479.1"/>
<line x1="69.5" y1="533.18" x2="74.5" y2="533.18"/>
<line x1="69.5" y1="587.26" x2="74.5" y2="587.26"/>
<line x1="69.5" y1="641.4" x2="74.5" y2="641.4"/>
</g>
<g font-family='"Liberation Sans", sans-serif' font-size="25" fill="#000">
<text x="90.75" y="708">0</text>
<text x="120.25" y="708">3</text>
<text x="149.75" y="708">6</text>
<text x="179.25" y="708">9</text>
<path d="M7.95,0L5.95,0L5.95,-13.6C5.0,-12.6 3.2,-12.15 1.1,-12.15L1.1,-14.25C3.6,-14.35 5.3,-15.6 5.95,-17.45L7.95,-17.45Z" transform="translate(201.8,708) scale(1)"/>
<text x="215.7" y="708">2</text>
<path d="M7.95,0L5.95,0L5.95,-13.6C5.0,-12.6 3.2,-12.15 1.1,-12.15L1.1,-14.25C3.6,-14.35 5.3,-15.6 5.95,-17.45L7.95,-17.45Z" transform="translate(231.3,708) scale(1)"/>
<text x="245.2" y="708">5</text>
<path d="M7.95,0L5.95,0L5.95,-13.6C5.0,-12.6 3.2,-12.15 1.1,-12.15L1.1,-14.25C3.6,-14.35 5.3,-15.6 5.95,-17.45L7.95,-17.45Z" transform="translate(260.8,708) scale(1)"/>
<text x="274.7" y="708">8</text>
<text x="290.3" y="708">2</text>
<path d="M7.95,0L5.95,0L5.95,-13.6C5.0,-12.6 3.2,-12.15 1.1,-12.15L1.1,-14.25C3.6,-14.35 5.3,-15.6 5.95,-17.45L7.95,-17.45Z" transform="translate(304.2,708) scale(1)"/>
<text x="319.8" y="708">24</text>
<text x="349.3" y="708">27</text>
<text x="378.8" y="708">30</text>
<text x="408.3" y="708">33</text>
<text x="437.8" y="708">36</text>
<text x="467.3" y="708">39</text>
<text x="496.8" y="708">42</text>
<text x="526.3" y="708">45</text>
<text x="555.8" y="708">48</text>
<text x="12.14" y="486">0.85</text>
<rect x="0.2" y="478.33" width="12.6" height="1.75"/>
<text x="12.02" y="540">0.90</text>
<rect x="0.15" y="532.33" width="12.6" height="1.75"/>
<text x="11.99" y="594">0.95</text>
<rect x="0.05" y="586.33" width="12.6" height="1.75"/>
<path d="M7.95,0L5.95,0L5.95,-13.6C5.0,-12.6 3.2,-12.15 1.1,-12.15L1.1,-14.25C3.6,-14.35 5.3,-15.6 5.95,-17.45L7.95,-17.45Z" transform="translate(12.02,647) scale(1)"/>
<text x="25.92" y="647">.00</text>
<rect x="0.15" y="639.33" width="12.6" height="1.75"/>
</g>
<text x="338.95" y="421.8" text-anchor="middle" textLength="220.25" lengthAdjust="spacing" font-family='"Liberation Sans", sans-serif' font-style="italic" font-size="25">Graph C. Skewness</text>
<g transform="translate(0,739.8) scale(1,0.972) translate(0,-739.8)"><text x="303.56" y="739.8" font-family='"Liberation Sans", sans-serif' font-style="italic" font-size="25">h</text></g>
<path d="M323.57,728.9L332.57,738.5M332.57,728.9L323.57,738.5" stroke="#000" stroke-width="1.35" fill="none"/>
<g font-family='"Liberation Sans", sans-serif' font-size="25">
<path d="M7.95,0L5.95,0L5.95,-13.6C5.0,-12.6 3.2,-12.15 1.1,-12.15L1.1,-14.25C3.6,-14.35 5.3,-15.6 5.95,-17.45L7.95,-17.45Z" transform="translate(339.07,739.8) scale(1)"/>
<text x="352.97" y="739.8">0</text>
</g>
<text x="365.94" y="732.2" font-family='"Liberation Sans", sans-serif' font-size="16.5">3</text>
<rect x="471.8" y="450.8" width="121.4" height="81.8" rx="4.4" fill="#fff"/>
<line x1="480.8" y1="472.4" x2="525.2" y2="472.4" stroke="#0000ff" stroke-width="4.17" stroke-dasharray="4.15 6.84"/>
<path d="M498.83,468.23L507.17,468.23L503,476.57Z" fill="#0000ff" stroke="#0000ff" stroke-width="1.39" stroke-linejoin="miter"/>
<line x1="480.8" y1="511.1" x2="525.2" y2="511.1" stroke="#ff0000" stroke-width="4.17" stroke-linecap="square"/>
<circle cx="503" cy="511.1" r="4.86" fill="#ff0000"/>
<g transform="translate(0,481.85) scale(1,1.035) translate(0,-481.85)"><text x="541.54" y="481.85" font-family='"Liberation Sans", sans-serif' font-style="italic" font-size="25">O</text><path d="M552.3,477.95L557.8,483.15" stroke="#000" stroke-width="2.0" fill="none"/></g>
<text x="561.26" y="472.4" font-family='"Liberation Sans", sans-serif' font-size="16.5">0</text>
<g transform="translate(0,520.3) scale(1,1.035) translate(0,-520.3)"><text x="542.44" y="520.3" font-family='"Liberation Sans", sans-serif' font-style="italic" font-size="25">O</text><path d="M553.2,516.4L558.7,521.6" stroke="#000" stroke-width="2.0" fill="none"/></g>
<text x="563" y="510.8" font-family='"Liberation Serif", serif' font-style="italic" font-size="16.5">θ</text>
<text x="573.25" y="512.14" font-family='"Liberation Serif", serif' font-size="17.5">*</text>
<g stroke="#b0b0b0" stroke-width="1.11" fill="none">
<line x1="726.5" y1="442.5" x2="726.5" y2="676.5"/>
<line x1="757.06" y1="442.5" x2="757.06" y2="676.5"/>
<line x1="787.62" y1="442.5" x2="787.62" y2="676.5"/>
<line x1="818.19" y1="442.5" x2="818.19" y2="676.5"/>
<line x1="848.75" y1="442.5" x2="848.75" y2="676.5"/>
<line x1="879.31" y1="442.5" x2="879.31" y2="676.5"/>
<line x1="909.88" y1="442.5" x2="909.88" y2="676.5"/>
<line x1="940.44" y1="442.5" x2="940.44" y2="676.5"/>
<line x1="971" y1="442.5" x2="971" y2="676.5"/>
<line x1="1001.56" y1="442.5" x2="1001.56" y2="676.5"/>
<line x1="1032.12" y1="442.5" x2="1032.12" y2="676.5"/>
<line x1="1062.69" y1="442.5" x2="1062.69" y2="676.5"/>
<line x1="1093.25" y1="442.5" x2="1093.25" y2="676.5"/>
<line x1="1123.81" y1="442.5" x2="1123.81" y2="676.5"/>
<line x1="1154.38" y1="442.5" x2="1154.38" y2="676.5"/>
<line x1="1184.94" y1="442.5" x2="1184.94" y2="676.5"/>
<line x1="1215.5" y1="442.5" x2="1215.5" y2="676.5"/>
<line x1="701.5" y1="448.5" x2="1250" y2="448.5"/>
<line x1="701.5" y1="490.77" x2="1250" y2="490.77"/>
<line x1="701.5" y1="533.04" x2="1250" y2="533.04"/>
<line x1="701.5" y1="575.31" x2="1250" y2="575.31"/>
<line x1="701.5" y1="617.58" x2="1250" y2="617.58"/>
<line x1="701.5" y1="659.85" x2="1250" y2="659.85"/>
</g>
<g clip-path="url(#cD)">
<line x1="726.5" y1="660.8" x2="1225.28" y2="660.8" stroke="#0000ff" stroke-width="4.17" stroke-dasharray="4.15 6.84" stroke-linecap="butt"/>
<path d="M722.33,656.63L730.67,656.63L726.5,664.97Z" fill="#0000ff" stroke="#0000ff" stroke-width="1.39" stroke-linejoin="miter"/>
<path d="M739.53,656.63L747.87,656.63L743.7,664.97Z" fill="#0000ff" stroke="#0000ff" stroke-width="1.39" stroke-linejoin="miter"/>
<path d="M756.73,656.63L765.07,656.63L760.9,664.97Z" fill="#0000ff" stroke="#0000ff" stroke-width="1.39" stroke-linejoin="miter"/>
<path d="M773.93,656.63L782.26,656.63L778.1,664.97Z" fill="#0000ff" stroke="#0000ff" stroke-width="1.39" stroke-linejoin="miter"/>
<path d="M791.13,656.63L799.46,656.63L795.3,664.97Z" fill="#0000ff" stroke="#0000ff" stroke-width="1.39" stroke-linejoin="miter"/>
<path d="M808.33,656.63L816.66,656.63L812.5,664.97Z" fill="#0000ff" stroke="#0000ff" stroke-width="1.39" stroke-linejoin="miter"/>
<path d="M825.53,656.63L833.86,656.63L829.7,664.97Z" fill="#0000ff" stroke="#0000ff" stroke-width="1.39" stroke-linejoin="miter"/>
<path d="M842.73,656.63L851.06,656.63L846.9,664.97Z" fill="#0000ff" stroke="#0000ff" stroke-width="1.39" stroke-linejoin="miter"/>
<path d="M859.93,656.63L868.26,656.63L864.09,664.97Z" fill="#0000ff" stroke="#0000ff" stroke-width="1.39" stroke-linejoin="miter"/>
<path d="M877.13,656.63L885.46,656.63L881.29,664.97Z" fill="#0000ff" stroke="#0000ff" stroke-width="1.39" stroke-linejoin="miter"/>
<path d="M894.33,656.63L902.66,656.63L898.49,664.97Z" fill="#0000ff" stroke="#0000ff" stroke-width="1.39" stroke-linejoin="miter"/>
<path d="M911.53,656.63L919.86,656.63L915.69,664.97Z" fill="#0000ff" stroke="#0000ff" stroke-width="1.39" stroke-linejoin="miter"/>
<path d="M928.73,656.63L937.06,656.63L932.89,664.97Z" fill="#0000ff" stroke="#0000ff" stroke-width="1.39" stroke-linejoin="miter"/>
<path d="M945.92,656.63L954.26,656.63L950.09,664.97Z" fill="#0000ff" stroke="#0000ff" stroke-width="1.39" stroke-linejoin="miter"/>
<path d="M963.12,656.63L971.46,656.63L967.29,664.97Z" fill="#0000ff" stroke="#0000ff" stroke-width="1.39" stroke-linejoin="miter"/>
<path d="M980.32,656.63L988.66,656.63L984.49,664.97Z" fill="#0000ff" stroke="#0000ff" stroke-width="1.39" stroke-linejoin="miter"/>
<path d="M997.52,656.63L1005.86,656.63L1001.69,664.97Z" fill="#0000ff" stroke="#0000ff" stroke-width="1.39" stroke-linejoin="miter"/>
<path d="M1014.72,656.63L1023.05,656.63L1018.89,664.97Z" fill="#0000ff" stroke="#0000ff" stroke-width="1.39" stroke-linejoin="miter"/>
<path d="M1031.92,656.63L1040.25,656.63L1036.09,664.97Z" fill="#0000ff" stroke="#0000ff" stroke-width="1.39" stroke-linejoin="miter"/>
<path d="M1049.12,656.63L1057.45,656.63L1053.29,664.97Z" fill="#0000ff" stroke="#0000ff" stroke-width="1.39" stroke-linejoin="miter"/>
<path d="M1066.32,656.63L1074.65,656.63L1070.49,664.97Z" fill="#0000ff" stroke="#0000ff" stroke-width="1.39" stroke-linejoin="miter"/>
<path d="M1083.52,656.63L1091.85,656.63L1087.69,664.97Z" fill="#0000ff" stroke="#0000ff" stroke-width="1.39" stroke-linejoin="miter"/>
<path d="M1100.72,656.63L1109.05,656.63L1104.88,664.97Z" fill="#0000ff" stroke="#0000ff" stroke-width="1.39" stroke-linejoin="miter"/>
<path d="M1117.92,656.63L1126.25,656.63L1122.08,664.97Z" fill="#0000ff" stroke="#0000ff" stroke-width="1.39" stroke-linejoin="miter"/>
<path d="M1135.12,656.63L1143.45,656.63L1139.28,664.97Z" fill="#0000ff" stroke="#0000ff" stroke-width="1.39" stroke-linejoin="miter"/>
<path d="M1152.32,656.63L1160.65,656.63L1156.48,664.97Z" fill="#0000ff" stroke="#0000ff" stroke-width="1.39" stroke-linejoin="miter"/>
<path d="M1169.52,656.63L1177.85,656.63L1173.68,664.97Z" fill="#0000ff" stroke="#0000ff" stroke-width="1.39" stroke-linejoin="miter"/>
<path d="M1186.71,656.63L1195.05,656.63L1190.88,664.97Z" fill="#0000ff" stroke="#0000ff" stroke-width="1.39" stroke-linejoin="miter"/>
<path d="M1203.91,656.63L1212.25,656.63L1208.08,664.97Z" fill="#0000ff" stroke="#0000ff" stroke-width="1.39" stroke-linejoin="miter"/>
<path d="M1221.11,656.63L1229.45,656.63L1225.28,664.97Z" fill="#0000ff" stroke="#0000ff" stroke-width="1.39" stroke-linejoin="miter"/>
<polyline points="726.5,660.8 743.7,665.58 760.9,659.5 778.1,651.83 795.3,643.59 812.5,635.1 829.7,626.52 846.9,617.92 864.09,609.36 881.29,600.86 898.49,592.44 915.69,584.11 932.89,575.87 950.09,567.74 967.29,559.72 984.49,551.81 1001.69,544.01 1018.89,536.33 1036.09,528.75 1053.29,521.29 1070.49,513.95 1087.69,506.71 1104.88,499.59 1122.08,492.57 1139.28,485.67 1156.48,478.88 1173.68,472.19 1190.88,465.62 1208.08,459.15 1225.28,452.78" fill="none" stroke="#ff0000" stroke-width="4.17" stroke-linecap="square" stroke-linejoin="round"/>
<circle cx="726.5" cy="660.8" r="4.86" fill="#ff0000"/>
<circle cx="743.7" cy="665.58" r="4.86" fill="#ff0000"/>
<circle cx="760.9" cy="659.5" r="4.86" fill="#ff0000"/>
<circle cx="778.1" cy="651.83" r="4.86" fill="#ff0000"/>
<circle cx="795.3" cy="643.59" r="4.86" fill="#ff0000"/>
<circle cx="812.5" cy="635.1" r="4.86" fill="#ff0000"/>
<circle cx="829.7" cy="626.52" r="4.86" fill="#ff0000"/>
<circle cx="846.9" cy="617.92" r="4.86" fill="#ff0000"/>
<circle cx="864.09" cy="609.36" r="4.86" fill="#ff0000"/>
<circle cx="881.29" cy="600.86" r="4.86" fill="#ff0000"/>
<circle cx="898.49" cy="592.44" r="4.86" fill="#ff0000"/>
<circle cx="915.69" cy="584.11" r="4.86" fill="#ff0000"/>
<circle cx="932.89" cy="575.87" r="4.86" fill="#ff0000"/>
<circle cx="950.09" cy="567.74" r="4.86" fill="#ff0000"/>
<circle cx="967.29" cy="559.72" r="4.86" fill="#ff0000"/>
<circle cx="984.49" cy="551.81" r="4.86" fill="#ff0000"/>
<circle cx="1001.69" cy="544.01" r="4.86" fill="#ff0000"/>
<circle cx="1018.89" cy="536.33" r="4.86" fill="#ff0000"/>
<circle cx="1036.09" cy="528.75" r="4.86" fill="#ff0000"/>
<circle cx="1053.29" cy="521.29" r="4.86" fill="#ff0000"/>
<circle cx="1070.49" cy="513.95" r="4.86" fill="#ff0000"/>
<circle cx="1087.69" cy="506.71" r="4.86" fill="#ff0000"/>
<circle cx="1104.88" cy="499.59" r="4.86" fill="#ff0000"/>
<circle cx="1122.08" cy="492.57" r="4.86" fill="#ff0000"/>
<circle cx="1139.28" cy="485.67" r="4.86" fill="#ff0000"/>
<circle cx="1156.48" cy="478.88" r="4.86" fill="#ff0000"/>
<circle cx="1173.68" cy="472.19" r="4.86" fill="#ff0000"/>
<circle cx="1190.88" cy="465.62" r="4.86" fill="#ff0000"/>
<circle cx="1208.08" cy="459.15" r="4.86" fill="#ff0000"/>
<circle cx="1225.28" cy="452.78" r="4.86" fill="#ff0000"/>
</g>
<rect x="701.5" y="442.5" width="548.5" height="234" fill="none" stroke="#000" stroke-width="1.11" stroke-linejoin="miter"/>
<g stroke="#000" stroke-width="1.11">
<line x1="726.5" y1="676.5" x2="726.5" y2="681.5"/>
<line x1="757.06" y1="676.5" x2="757.06" y2="681.5"/>
<line x1="787.62" y1="676.5" x2="787.62" y2="681.5"/>
<line x1="818.19" y1="676.5" x2="818.19" y2="681.5"/>
<line x1="848.75" y1="676.5" x2="848.75" y2="681.5"/>
<line x1="879.31" y1="676.5" x2="879.31" y2="681.5"/>
<line x1="909.88" y1="676.5" x2="909.88" y2="681.5"/>
<line x1="940.44" y1="676.5" x2="940.44" y2="681.5"/>
<line x1="971" y1="676.5" x2="971" y2="681.5"/>
<line x1="1001.56" y1="676.5" x2="1001.56" y2="681.5"/>
<line x1="1032.12" y1="676.5" x2="1032.12" y2="681.5"/>
<line x1="1062.69" y1="676.5" x2="1062.69" y2="681.5"/>
<line x1="1093.25" y1="676.5" x2="1093.25" y2="681.5"/>
<line x1="1123.81" y1="676.5" x2="1123.81" y2="681.5"/>
<line x1="1154.38" y1="676.5" x2="1154.38" y2="681.5"/>
<line x1="1184.94" y1="676.5" x2="1184.94" y2="681.5"/>
<line x1="1215.5" y1="676.5" x2="1215.5" y2="681.5"/>
<line x1="696.5" y1="448.5" x2="701.5" y2="448.5"/>
<line x1="696.5" y1="490.77" x2="701.5" y2="490.77"/>
<line x1="696.5" y1="533.04" x2="701.5" y2="533.04"/>
<line x1="696.5" y1="575.31" x2="701.5" y2="575.31"/>
<line x1="696.5" y1="617.58" x2="701.5" y2="617.58"/>
<line x1="696.5" y1="659.85" x2="701.5" y2="659.85"/>
</g>
<g font-family='"Liberation Sans", sans-serif' font-size="25" fill="#000">
<text x="717.05" y="707.7">0</text>
<text x="747.61" y="707.7">3</text>
<text x="778.17" y="707.7">6</text>
<text x="808.74" y="707.7">9</text>
<path d="M7.95,0L5.95,0L5.95,-13.6C5.0,-12.6 3.2,-12.15 1.1,-12.15L1.1,-14.25C3.6,-14.35 5.3,-15.6 5.95,-17.45L7.95,-17.45Z" transform="translate(832.35,707.7) scale(1)"/>
<text x="846.25" y="707.7">2</text>
<path d="M7.95,0L5.95,0L5.95,-13.6C5.0,-12.6 3.2,-12.15 1.1,-12.15L1.1,-14.25C3.6,-14.35 5.3,-15.6 5.95,-17.45L7.95,-17.45Z" transform="translate(862.91,707.7) scale(1)"/>
<text x="876.81" y="707.7">5</text>
<path d="M7.95,0L5.95,0L5.95,-13.6C5.0,-12.6 3.2,-12.15 1.1,-12.15L1.1,-14.25C3.6,-14.35 5.3,-15.6 5.95,-17.45L7.95,-17.45Z" transform="translate(893.47,707.7) scale(1)"/>
<text x="907.38" y="707.7">8</text>
<text x="924.03" y="707.7">2</text>
<path d="M7.95,0L5.95,0L5.95,-13.6C5.0,-12.6 3.2,-12.15 1.1,-12.15L1.1,-14.25C3.6,-14.35 5.3,-15.6 5.95,-17.45L7.95,-17.45Z" transform="translate(937.94,707.7) scale(1)"/>
<text x="954.6" y="707.7">24</text>
<text x="985.16" y="707.7">27</text>
<text x="1015.72" y="707.7">30</text>
<text x="1046.28" y="707.7">33</text>
<text x="1076.85" y="707.7">36</text>
<text x="1107.41" y="707.7">39</text>
<text x="1137.97" y="707.7">42</text>
<text x="1168.53" y="707.7">45</text>
<text x="1199.1" y="707.7">48</text>
<text x="640.43" y="457">4.98</text>
<text x="640.5" y="500">4.97</text>
<text x="640.44" y="543">4.96</text>
<text x="640.19" y="586">4.95</text>
<text x="640.08" y="627">4.94</text>
<text x="640.44" y="671">4.93</text>
</g>
<text x="975.77" y="425.84" text-anchor="middle" textLength="197.85" lengthAdjust="spacing" font-family='"Liberation Sans", sans-serif' font-style="italic" font-size="25">Graph D. Kurtosis</text>
<g transform="translate(0,739.8) scale(1,0.972) translate(0,-739.8)"><text x="939.63" y="739.8" font-family='"Liberation Sans", sans-serif' font-style="italic" font-size="25">h</text></g>
<path d="M959.65,728.9L968.65,738.5M968.65,728.9L959.65,738.5" stroke="#000" stroke-width="1.35" fill="none"/>
<g font-family='"Liberation Sans", sans-serif' font-size="25">
<path d="M7.95,0L5.95,0L5.95,-13.6C5.0,-12.6 3.2,-12.15 1.1,-12.15L1.1,-14.25C3.6,-14.35 5.3,-15.6 5.95,-17.45L7.95,-17.45Z" transform="translate(975.15,739.8) scale(1)"/>
<text x="989.05" y="739.8">0</text>
</g>
<text x="1002.02" y="732.2" font-family='"Liberation Sans", sans-serif' font-size="16.5">3</text>
<rect x="712.8" y="453.2" width="121.3" height="82.1" rx="4.4" fill="#fff"/>
<line x1="721.3" y1="474.7" x2="765.7" y2="474.7" stroke="#0000ff" stroke-width="4.17" stroke-dasharray="4.15 6.84"/>
<path d="M739.33,470.53L747.67,470.53L743.5,478.87Z" fill="#0000ff" stroke="#0000ff" stroke-width="1.39" stroke-linejoin="miter"/>
<line x1="721.3" y1="513.4" x2="765.7" y2="513.4" stroke="#ff0000" stroke-width="4.17" stroke-linecap="square"/>
<circle cx="743.5" cy="513.4" r="4.86" fill="#ff0000"/>
<g transform="translate(0,483.1) scale(1,1.035) translate(0,-483.1)"><text x="782.64" y="483.1" font-family='"Liberation Sans", sans-serif' font-style="italic" font-size="25">O</text><path d="M793.4,479.2L798.9,484.4" stroke="#000" stroke-width="2.0" fill="none"/></g>
<text x="801.86" y="475.4" font-family='"Liberation Sans", sans-serif' font-size="16.5">0</text>
<g transform="translate(0,522.1) scale(1,1.035) translate(0,-522.1)"><text x="782.64" y="522.1" font-family='"Liberation Sans", sans-serif' font-style="italic" font-size="25">O</text><path d="M793.4,518.2L798.9,523.4" stroke="#000" stroke-width="2.0" fill="none"/></g>
<text x="802.7" y="514.4" font-family='"Liberation Serif", serif' font-style="italic" font-size="16.5">θ</text>
<text x="813.15" y="515.44" font-family='"Liberation Serif", serif' font-size="17.5">*</text>
</svg>
</body></html>
